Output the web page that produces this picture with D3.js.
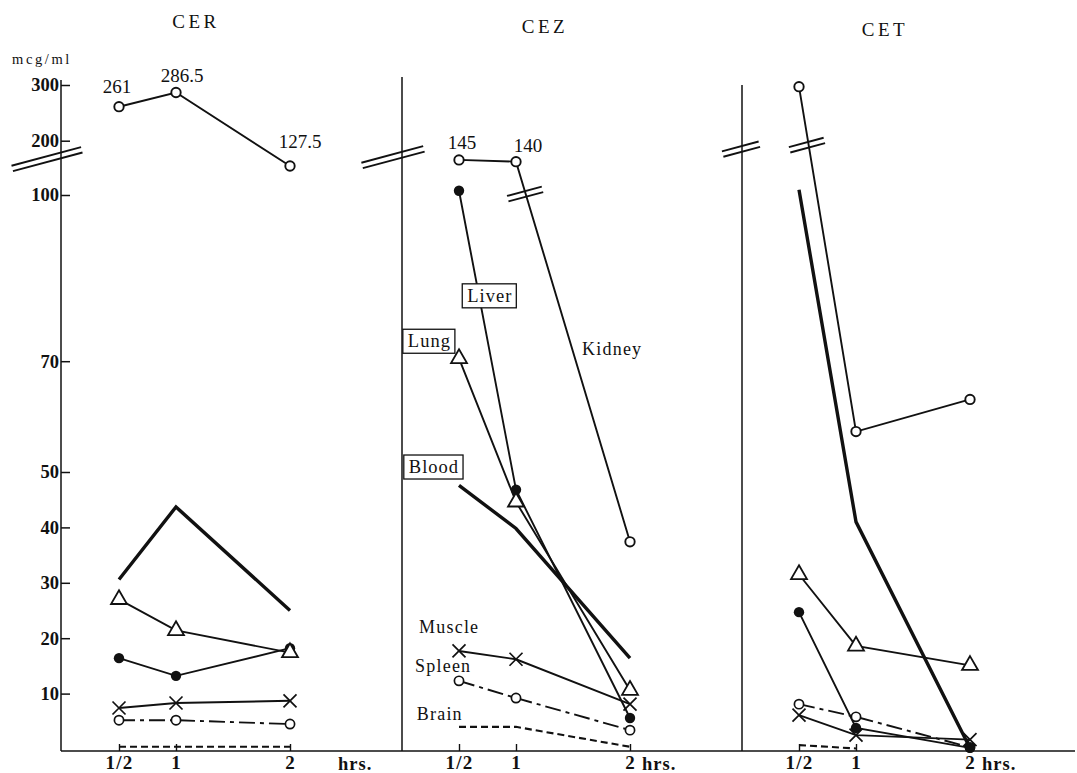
<!DOCTYPE html>
<html>
<head>
<meta charset="utf-8">
<script src="https://cdn.jsdelivr.net/npm/d3@7"></script>
<style>
  body { margin: 0; background: #fff; }
  text { font-family: "Liberation Serif", "DejaVu Serif", serif; fill: #111; }
</style>
</head>
<body>
<svg id="chart" width="1077" height="773"></svg>
<script>
// sampling times (hrs) and the three drugs
const hours = [0.5, 1, 2];
const hourLabels = ["1/2", "1", "2"];
const drugs = ["CER", "CEZ", "CET"];
const yTicks = [10, 20, 30, 40, 50, 70, 100, 200, 300];

// tissue levels, mcg/ml -- one row per drug, one column per hour
const kidney = [[261, 286.5, 127.5], [145, 140, 37.4], [297, 57.3, 63.1]];
const blood  = [[30.6, 43.7, 25.0], [47.6, 39.8, 16.4], [105, 41, 0.2]];
const lung   = [[27.0, 21.4, 17.4], [70.5, 44.6, 10.6], [31.5, 18.6, 15.1]];
const liver  = [[16.4, 13.2, 18.2], [104, 46.8, 5.6], [24.7, 3.8, 0.2]];
const muscle = [[7.4, 8.3, 8.7], [17.7, 16.2, 8.1], [6.1, 2.5, 1.7]];
const spleen = [[5.2, 5.2, 4.5], [12.3, 9.2, 3.4], [8.1, 5.8, 0.3]];
const brain  = [[0.4, 0.4, 0.4], [4.0, 4.0, 0.4], [0.7, 0.1, null]];
const kidneyLabels = [["261", "286.5", "127.5"], ["145", "140", null], [null, null, null]];

const svg = d3.select("#chart");

// broken y axis: 0-100 linear, compressed 100-200, then 200-300
const y = d3.scaleLinear()
  .domain([0, 100, 127.5, 200, 300])
  .range([749, 195, 166, 140.7, 85]);

const axisY = 751;
const panelLeft = [62, 402, 742];
const panelTop = [80, 77, 85];
const xs = panelLeft.map(l => d3.scaleLinear().domain([0, 2]).range([l, l + 228]));

// y axis
svg.append("line").attr("x1", 61).attr("x2", 61).attr("y1", 80).attr("y2", axisY)
  .attr("stroke", "#111").attr("stroke-width", 1.5);
const ya = svg.append("g").attr("transform", "translate(61,0)")
  .call(d3.axisLeft(y).tickValues(yTicks).tickSizeInner(-9).tickSizeOuter(0).tickPadding(3));
ya.select(".domain").remove();
ya.selectAll(".tick line").attr("stroke", "#111").attr("stroke-width", 1.5);
ya.selectAll(".tick text").attr("x", -2).style("font-size", "18.5px").style("font-weight", "bold")
  .style("font-family", "Liberation Serif");

svg.append("text").attr("x", 12).attr("y", 64).text("mcg/ml")
  .style("font-size", "14.5px").style("letter-spacing", "2.6px");

// bottom axis line across all panels
svg.append("line").attr("x1", 61).attr("x2", 1075).attr("y1", axisY).attr("y2", axisY)
  .attr("stroke", "#111").attr("stroke-width", 1.5);

// panel separators
[1, 2].forEach(i => {
  svg.append("line").attr("x1", panelLeft[i]).attr("x2", panelLeft[i])
    .attr("y1", panelTop[i]).attr("y2", axisY)
    .attr("stroke", "#111").attr("stroke-width", 1.5);
});

function breakMark(cx, cy, len) {
  const a = -15 * Math.PI / 180, dx = Math.cos(a) * len / 2, dy = Math.sin(a) * len / 2;
  const ox = -Math.sin(a) * 2.8, oy = Math.cos(a) * 2.8;
  [-1, 1].forEach(s => {
    svg.append("line")
      .attr("x1", cx - dx + s * ox).attr("y1", cy - dy + s * oy)
      .attr("x2", cx + dx + s * ox).attr("y2", cy + dy + s * oy)
      .attr("stroke", "#111").attr("stroke-width", 1.9);
  });
}
// axis breaks
breakMark(47, y(150) + 1, 72);
breakMark(393, y(150) - 1, 64);
breakMark(741, y(150) - 9, 38);

const line = d3.line()
  .defined(d => d.v != null)
  .x(d => d.x).y(d => y(d.v));

const tri = d3.symbol().type(d3.symbolTriangle).size(110);

// nudges for the kidney value labels (label sits above-right of its point)
const labelNudge = [[[-2, -14], [6, -11], [10, -18]], [[3, -11], [12, -10], null], [null, null, null]];

drugs.forEach((name, i) => {
  const x = xs[i];
  const g = svg.append("g");
  const pts = arr => hours.map((h, j) => ({ x: x(h), v: arr[i][j] }));

  // title
  const tx = [196, 545, 885][i], ty = [28, 33, 36][i];
  g.append("text").attr("x", tx).attr("y", ty).attr("text-anchor", "middle")
    .style("font-size", "19px").style("letter-spacing", "3.5px").text(name);

  // x ticks (pointing up) and labels
  const xa = g.append("g").attr("transform", `translate(0,${axisY})`)
    .call(d3.axisBottom(x).tickValues(hours).tickSizeInner(-7).tickSizeOuter(0).tickPadding(5)
      .tickFormat((d, j) => hourLabels[j]));
  xa.select(".domain").remove();
  xa.selectAll(".tick line").attr("stroke", "#111").attr("stroke-width", 1.4);
  xa.selectAll(".tick text").style("font-size", "19px").style("font-weight", "bold")
    .style("font-family", "Liberation Serif").style("letter-spacing", "1.2px");
  g.append("text").attr("x", x(2) + (i === 0 ? 48 : 12)).attr("y", axisY + 19)
    .style("font-size", "18.5px").style("font-weight", "bold").style("letter-spacing", "1px").text("hrs.");

  // lines
  g.append("path").datum(pts(brain)).attr("d", line).attr("fill", "none")
    .attr("stroke", "#111").attr("stroke-width", 2.1).attr("stroke-dasharray", "7,4");
  g.append("path").datum(pts(spleen)).attr("d", line).attr("fill", "none")
    .attr("stroke", "#111").attr("stroke-width", 1.9).attr("stroke-dasharray", "16,5,4,5");
  [muscle, liver, lung, kidney].forEach(arr => {
    g.append("path").datum(pts(arr)).attr("d", line).attr("fill", "none")
      .attr("stroke", "#111").attr("stroke-width", 1.9);
  });
  g.append("path").datum(pts(blood)).attr("d", line).attr("fill", "none")
    .attr("stroke", "#111").attr("stroke-width", 3.4);

  // markers
  g.selectAll(".spl").data(pts(spleen).filter(d => d.v != null)).join("circle")
    .attr("cx", d => d.x).attr("cy", d => y(d.v)).attr("r", 4.6)
    .attr("fill", "#fff").attr("stroke", "#111").attr("stroke-width", 1.7);
  g.selectAll(".kid").data(pts(kidney)).join("circle")
    .attr("cx", d => d.x).attr("cy", d => y(d.v)).attr("r", 4.7)
    .attr("fill", "#fff").attr("stroke", "#111").attr("stroke-width", 1.9);
  g.selectAll(".liv").data(pts(liver)).join("circle")
    .attr("cx", d => d.x).attr("cy", d => y(d.v)).attr("r", 5.2)
    .attr("fill", "#111");
  g.selectAll(".lng").data(pts(lung)).join("path")
    .attr("transform", d => `translate(${d.x},${y(d.v)})`).attr("d", tri)
    .attr("fill", "#fff").attr("stroke", "#111").attr("stroke-width", 1.8);
  g.selectAll(".mus").data(pts(muscle)).join("path")
    .attr("transform", d => `translate(${d.x},${y(d.v)})`)
    .attr("d", "M-6.5,-6.5L6.5,6.5M-6.5,6.5L6.5,-6.5")
    .attr("stroke", "#111").attr("stroke-width", 1.7);

  // kidney value labels
  hours.forEach((h, j) => {
    const t = kidneyLabels[i][j];
    if (!t) return;
    const n = labelNudge[i][j];
    g.append("text").attr("x", x(h) + n[0]).attr("y", y(kidney[i][j]) + n[1])
      .attr("text-anchor", "middle").style("font-size", "19px").text(t);
  });
});

// breaks on the kidney lines of CEZ and CET
breakMark(xs[1](1.08), y(100) - 1, 36);
breakMark(xs[2](0.57), y(150) - 13, 36);

// tissue labels in the CEZ panel
const x2 = xs[1];
const boxed = [
  { t: "Liver", h: 0.77, v: 81.8 },
  { t: "Lung", h: 0.24, v: 73.6 },
  { t: "Blood", h: 0.28, v: 50.9 }
];
boxed.forEach(b => {
  const lg = svg.append("g");
  const r = lg.append("rect");
  const t = lg.append("text").attr("x", x2(b.h)).attr("y", y(b.v) + 6)
    .attr("text-anchor", "middle").style("font-size", "18.5px").style("letter-spacing", "1px").text(b.t);
  const bb = t.node().getBBox();
  r.attr("x", bb.x - 5).attr("y", bb.y - 2)
    .attr("width", bb.width + 9).attr("height", bb.height + 4)
    .attr("fill", "#fff").attr("stroke", "#111").attr("stroke-width", 1.3);
});
const plain = [
  { t: "Kidney", h: 1.58, v: 71.2 },
  { t: "Muscle", h: 0.15, v: 20.9 },
  { t: "Spleen", h: 0.115, v: 13.9 },
  { t: "Brain", h: 0.13, v: 5.2 }
];
plain.forEach(p => {
  svg.append("text").attr("x", x2(p.h)).attr("y", y(p.v))
    .style("font-size", "18px").style("letter-spacing", "1.2px").text(p.t);
});
</script>
</body>
</html>
